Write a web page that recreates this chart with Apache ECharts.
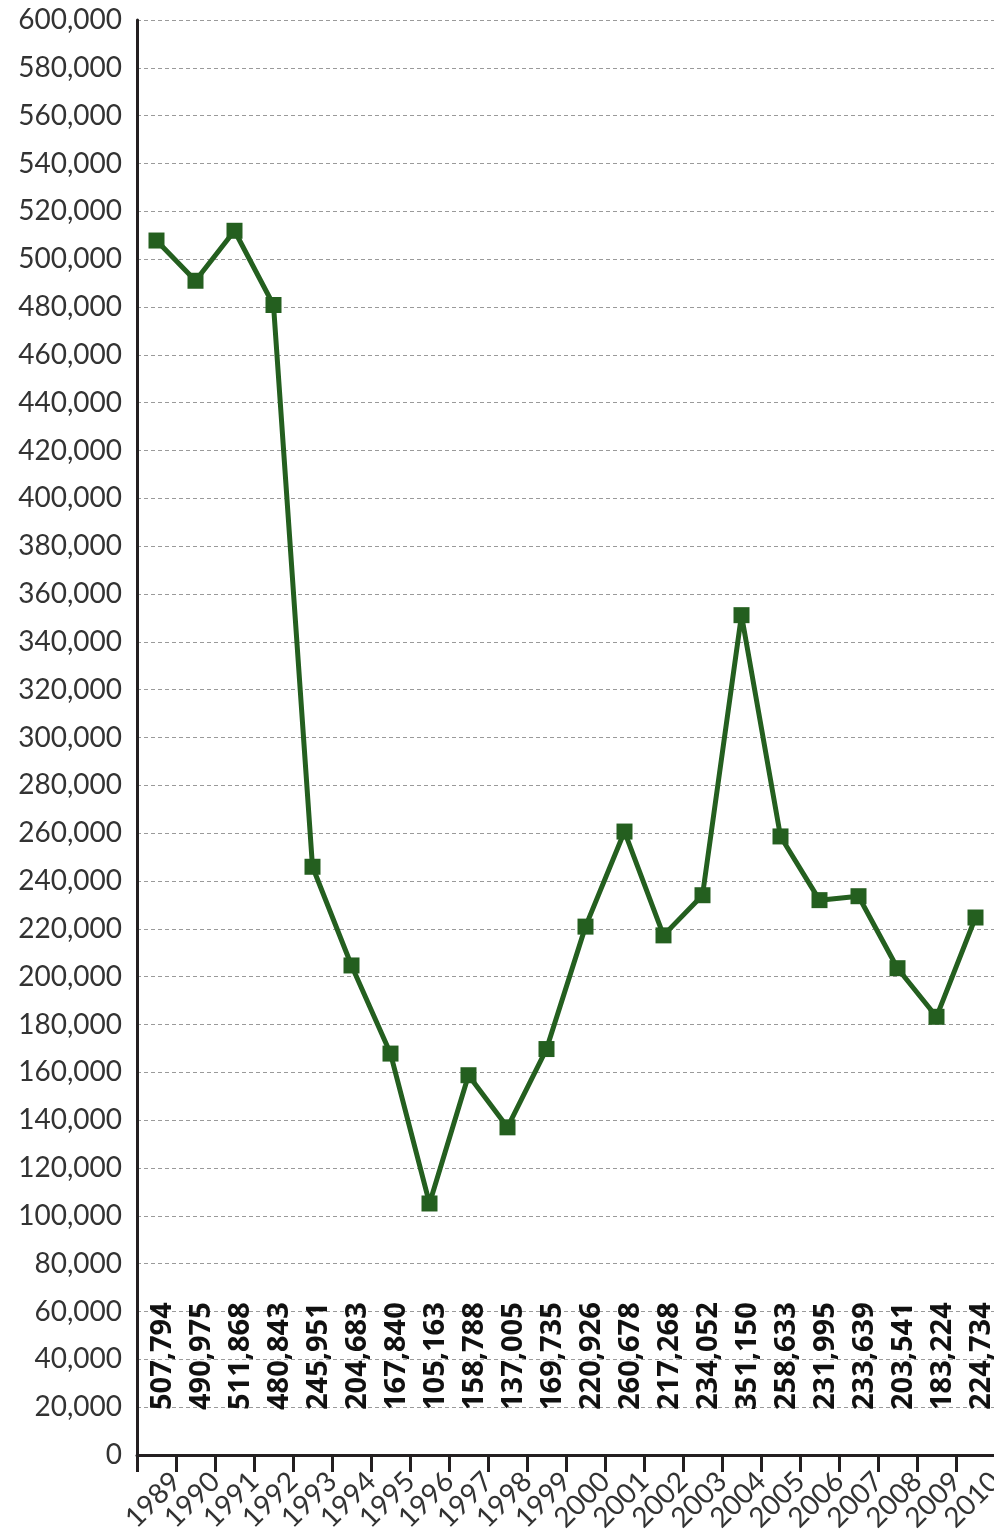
<!DOCTYPE HTML>
<html lang="en">
<head>
    <meta charset="utf-8">
    <title>Chart</title>
    <style>
        html, body { margin: 0; padding: 0; background: #fff; }
        #myChart { width: 994px; height: 1532px; }
    </style>
</head>
<body>
<div id="myChart"></div>
<script src="https://cdn.jsdelivr.net/npm/echarts@6/dist/echarts.min.js"></script>
<script>
    var years = ['1989', '1990', '1991', '1992', '1993', '1994', '1995', '1996', '1997', '1998', '1999',
        '2000', '2001', '2002', '2003', '2004', '2005', '2006', '2007', '2008', '2009', '2010'];
    var values = [507794, 490975, 511868, 480843, 245951, 204683, 167840, 105163, 158788, 137005, 169735,
        220926, 260678, 217268, 234052, 351150, 258633, 231995, 233639, 203541, 183224, 224734];
    // labels sit on the category boundaries, so the first boundary gets an empty one
    var yearLabels = [''].concat(years);

    function fmt(n) {
        return String(n).replace(/\B(?=(\d{3})+(?!\d))/g, ',');
    }

    var chart = echarts.init(document.getElementById('myChart'));
    var green = '#245f1f';
    var option = {
        animation: false,
        grid: {
            left: 137,
            right: -1,
            top: 20,
            bottom: 77,
            outerBoundsMode: 'none'
        },
        xAxis: [{
            type: 'category',
            data: years,
            boundaryGap: true,
            axisLine: { lineStyle: { color: '#231f20', width: 3 } },
            axisTick: { inside: true, length: 18, lineStyle: { color: '#231f20', width: 3 } },
            axisLabel: { show: false }
        }, {
            type: 'category',
            position: 'bottom',
            data: yearLabels,
            boundaryGap: false,
            axisLine: { show: false },
            axisTick: { length: 17, lineStyle: { color: '#231f20', width: 3 } },
            axisLabel: {
                rotate: 45,
                margin: 22,
                interval: 0,
                color: '#333',
                fontFamily: 'Lato',
                fontSize: 28
            }
        }],
        yAxis: {
            type: 'value',
            min: 0,
            max: 600000,
            interval: 20000,
            axisLine: { show: true, lineStyle: { color: '#231f20', width: 3 } },
            axisTick: { show: false },
            splitLine: { lineStyle: { color: '#9a9a9a', width: 1, type: [4, 3] } },
            axisLabel: {
                margin: 15,
                color: '#333',
                fontFamily: 'Lato',
                fontSize: 28,
                formatter: function (v) { return fmt(v); }
            }
        },
        series: [{
            name: 'values',
            type: 'line',
            data: values,
            symbol: 'rect',
            symbolSize: 16,
            lineStyle: { color: green, width: 5 },
            itemStyle: { color: green },
            z: 3
        }, {
            name: 'value labels',
            type: 'scatter',
            data: values.map(function () { return 0; }),
            symbolSize: 0,
            silent: true,
            itemStyle: { opacity: 1 },
            label: {
                show: true,
                position: 'top',
                distance: 45,
                rotate: 90,
                align: 'left',
                verticalAlign: 'middle',
                offset: [0, 6],
                color: '#111',
                opacity: 1,
                fontFamily: 'Open Sans',
                fontWeight: 'bold',
                fontSize: 29,
                formatter: function (p) { return fmt(values[p.dataIndex]); }
            }
        }]
    };
    chart.setOption(option);
</script>
</body>
</html>
